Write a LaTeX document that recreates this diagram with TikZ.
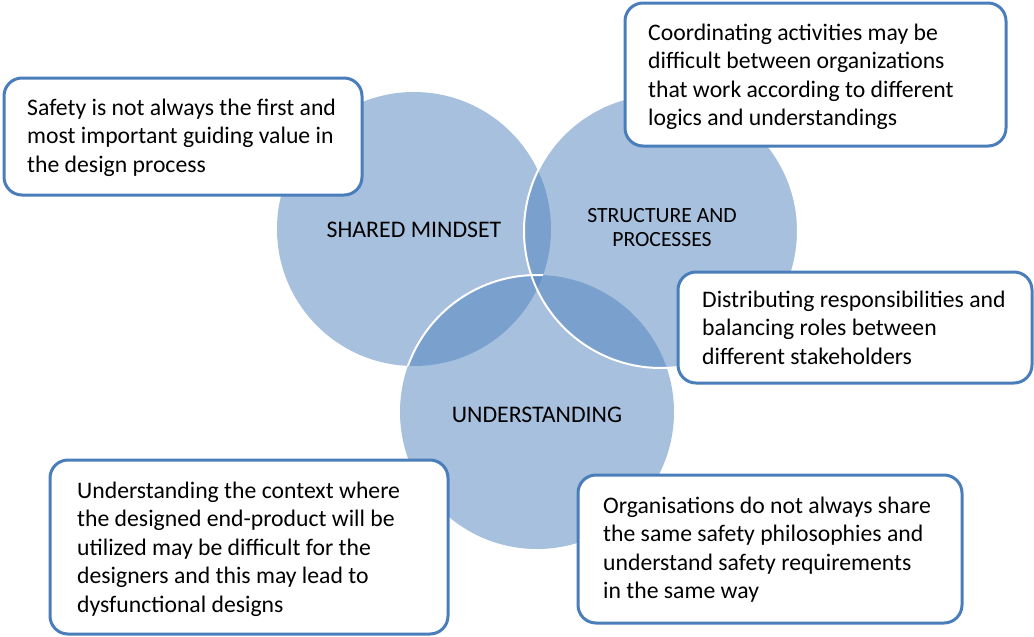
\documentclass[tikz,border=0pt]{standalone}
\usepackage{fontspec}
\setmainfont{Carlito}
\definecolor{vennblue}{HTML}{4F81BD}
\definecolor{boxblue}{HTML}{4A7EBB}
\newcommand{\notelines}[1]{\begin{tabular}[t]{@{}l@{}}#1\end{tabular}}
\newcommand{\circlelines}[1]{\begin{tabular}[t]{@{}c@{}}#1\end{tabular}}
\begin{document}
\begin{tikzpicture}[x=1pt,y=-1pt,
  venn/.style={fill=vennblue, fill opacity=0.5},
  rim/.style={draw=white, line width=2pt},
  note/.style={draw=boxblue, line width=3pt, fill=white, rounded corners=18pt},
  notetext/.style={anchor=base west, inner sep=0pt, font=\fontsize{23.7}{28.5}\selectfont},
  circletext/.style={anchor=base, inner sep=0pt, font=\fontsize{23.8}{28}\selectfont}
]
\useasboundingbox (0,0) rectangle (1034,637);

% the three overlapping sets
\coordinate (cA) at (414,229);
\coordinate (cB) at (661,231);
\coordinate (cC) at (537,412);
\fill[venn] (cA) circle (137pt);
\fill[venn] (cB) circle (137pt);
\fill[venn] (cC) circle (137pt);

% white rims where the circles cross
\draw[rim] (cB) circle (137pt);
\begin{scope}
  \clip (cA) circle (137pt);
  \draw[rim] (cC) circle (137pt);
\end{scope}

% set titles
\node[circletext] (tA) at (414,237) {SHARED MINDSET};
\node[circletext, font=\fontsize{21.7}{24}\selectfont] (tB) at (662,222) {\circlelines{STRUCTURE AND\\PROCESSES}};
\node[circletext] (tC) at (537,422) {UNDERSTANDING};

% comment boxes
\draw[note] (4,78) rectangle (362,195);
\node[notetext] (n1) at (27,115) {\notelines{Safety is not always the first and\\most important guiding value in\\the design process}};

\draw[note] (625,3) rectangle (1006,146);
\node[notetext] (n2) at (648,40) {\notelines{Coordinating activities may be\\difficult between organizations\\that work according to different\\logics and understandings}};

\draw[note] (678,272) rectangle (1032,383);
\node[notetext] (n3) at (702,307) {\notelines{Distributing responsibilities and\\balancing roles between\\different stakeholders}};

\draw[note] (50,460) rectangle (448,634);
\node[notetext] (n4) at (77,498) {\notelines{Understanding the context where\\the designed end-product will be\\utilized may be difficult for the\\designers and this may lead to\\dysfunctional designs}};

\draw[note] (578,475) rectangle (962,623);
\node[notetext] (n5) at (603,513) {\notelines{Organisations do not always share\\the same safety philosophies and\\understand safety requirements\\in the same way}};
\end{tikzpicture}
\end{document}
